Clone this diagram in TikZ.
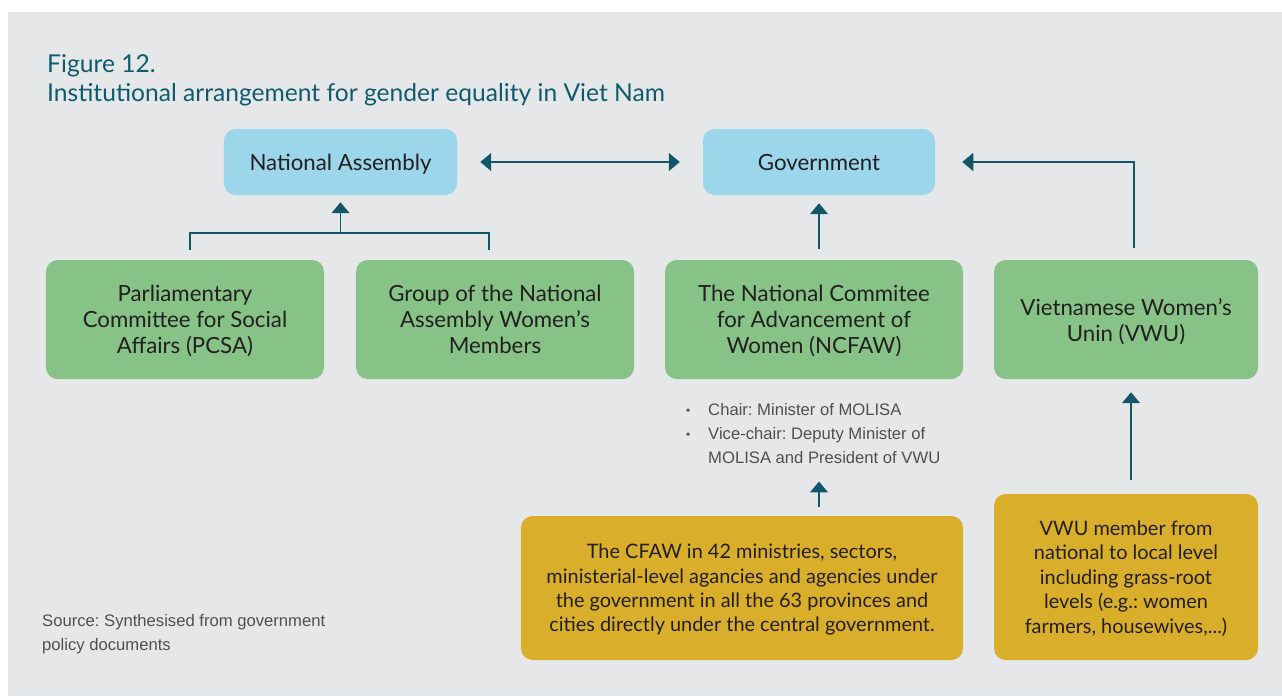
\documentclass[tikz,border=0pt]{standalone}
\usepackage{fontspec}
\setmainfont{Lato}
\newfontfamily\notefont{Liberation Sans}
\usetikzlibrary{arrows.meta}

\definecolor{panelgrey}{HTML}{E6E7E9}
\definecolor{titleteal}{HTML}{0F5B6E}
\definecolor{nablue}{HTML}{9BD6EB}
\definecolor{unitgreen}{HTML}{87C387}
\definecolor{basegold}{HTML}{D9AE2B}
\definecolor{linkteal}{HTML}{12566A}
\definecolor{textdark}{HTML}{231F20}
\definecolor{notegrey}{HTML}{505050}

\tikzset{
  orgbox/.style={rounded corners=10pt, align=center, inner sep=0pt, text=textdark,
    text depth=0pt, font=\fontsize{19}{22.2}\selectfont},
  topbox/.style={orgbox, fill=nablue, minimum height=1.98cm, minimum width=#1},
  unitbox/.style={orgbox, fill=unitgreen, minimum height=3.57cm, minimum width=#1},
  basebox/.style={orgbox, fill=basegold, font=\fontsize{17}{20.8}\selectfont},
  note/.style={anchor=north west, inner sep=0pt, align=left, text=notegrey,
    font=\notefont\fontsize{14.2}{20.4}\selectfont},
  heading/.style={anchor=base west, inner sep=0pt, text=titleteal,
    font=\fontsize{21}{25}\selectfont},
  link/.style={linkteal, line width=1.2pt, >={Triangle[width=0.54cm,length=0.33cm]}}
}
\newcommand\notebullet{\makebox[0.66cm][l]{\raisebox{0.5pt}{\fontsize{10}{10}\selectfont\textbullet}}}

\begin{document}
\frenchspacing
\begin{tikzpicture}[x=0.03cm,y=-0.03cm]
  \useasboundingbox (0,0) rectangle (1282,696);
  \fill[panelgrey] (8,12) rectangle (1282,696);

  \node[heading] (fig) at (47,72) {Figure 12.};
  \node[heading] (title) at (47,101) {Institutional arrangement for gender equality in Viet Nam};

  \node[topbox=6.99cm] (na) at (340.5,162) {National Assembly};
  \node[topbox=6.96cm] (gov) at (819,162) {Government};

  \node[unitbox=8.34cm] (pcsa) at (185,319.5) {Parliamentary\\Committee for Social\\Affairs (PCSA)};
  \node[unitbox=8.34cm] (grp) at (495,319.5) {Group of the National\\Assembly Women’s\\Members};
  \node[unitbox=8.94cm] (ncfaw) at (814,319.5) {The National Commitee\\for Advancement of\\Women (NCFAW)};
  \node[unitbox=7.92cm] (vwu) at (1126,319.5) {Vietnamese Women’s\\Unin (VWU)};

  \node[note] (roles) at (686,403) {\notebullet Chair: Minister of MOLISA\\
    \notebullet Vice-chair: Deputy Minister of\\
    \hspace*{0.66cm}MOLISA and President of VWU};

  \node[basebox, minimum width=13.26cm, minimum height=4.32cm] (cfaw) at (742,588)
    {The CFAW in 42 ministries, sectors,\\ministerial-level agancies and agencies under\\the government in all the 63 provinces and\\cities directly under the central government.};
  \node[basebox, minimum width=7.92cm, minimum height=4.98cm] (mem) at (1126,577)
    {VWU member from\\national to local level\\including grass-root\\levels (e.g.: women\\farmers, housewives,...)};

  \node[note] (source) at (42,614) {Source: Synthesised from government\\policy documents};

  \coordinate (split) at (340.5,233);
  \draw[link] ([xshift=0.15cm,yshift=0.3cm]pcsa.north) |- (split) -| ([xshift=-0.18cm,yshift=0.3cm]grp.north);
  \draw[link,->,shorten >=0.21cm] (split) -- (na.south);
  \draw[link,<->,shorten <=0.69cm,shorten >=0.69cm] (na) -- (gov);
  \draw[link,->,shorten <=0.33cm,shorten >=0.24cm] (ncfaw.north -| gov.south) -- (gov.south);
  \draw[link,->,shorten >=0.81cm] ([xshift=0.24cm,yshift=0.36cm]vwu.north) |- (gov.east);
  \draw[link,->,shorten <=0.27cm,shorten >=0.54cm] (cfaw.north -| gov.south) -- (roles.south -| gov.south);
  \draw[link,->,shorten <=0.42cm,shorten >=0.39cm] ([xshift=0.15cm]mem.north) -- ([xshift=0.15cm]vwu.south);
\end{tikzpicture}
\end{document}
